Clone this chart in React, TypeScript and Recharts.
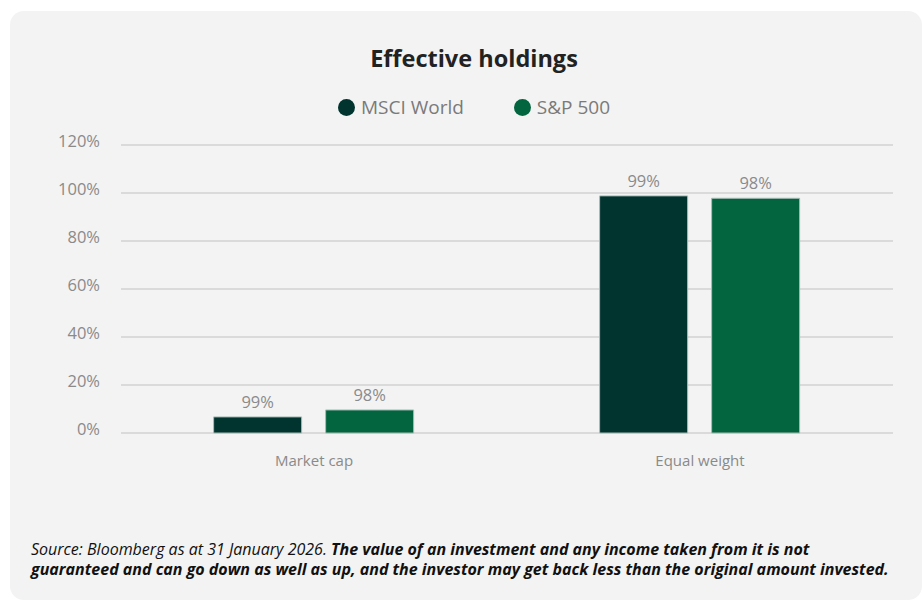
import React from 'react';
import { BarChart, Bar, XAxis, YAxis, CartesianGrid, Legend, LabelList } from 'recharts';

const categories = ['Market cap', 'Equal weight'];
const msciWorld = [6.7, 98.8];
const sp500 = [9.6, 97.8];
const msciLabels = ['99%', '99%'];
const spLabels = ['98%', '98%'];
const yTicks = [0, 20, 40, 60, 80, 100, 120];

const series = [
  { key: 'msci', label: 'msciLabel', name: 'MSCI World', color: '#01332f' },
  { key: 'sp', label: 'spLabel', name: 'S&P 500', color: '#03653f' },
];

const data = categories.map((category, i) => ({
  category,
  msci: msciWorld[i],
  sp: sp500[i],
  msciLabel: msciLabels[i],
  spLabel: spLabels[i],
}));

const FONT = '"Open Sans", Lato, sans-serif';

const LegendContent = () => (
  <div style={{ display: 'flex', justifyContent: 'center', gap: 50, fontFamily: FONT }}>
    {series.map((s) => (
      <div key={s.key} style={{ display: 'flex', alignItems: 'center', gap: 6 }}>
        <span style={{ width: 17, height: 17, borderRadius: '50%', background: s.color, display: 'inline-block' }} />
        <span style={{ fontSize: 19, color: '#7a7a7a' }}>{s.name}</span>
      </div>
    ))}
  </div>
);

export default function App() {
  return (
    <div
      style={{
        position: 'absolute',
        left: 10,
        top: 11,
        width: 912,
        height: 589,
        background: '#f3f3f3',
        borderRadius: 14,
        fontFamily: FONT,
      }}
    >
      <div
        style={{
          position: 'absolute',
          top: 31,
          left: 0,
          width: 912,
          paddingLeft: 16,
          boxSizing: 'border-box',
          textAlign: 'center',
          fontSize: 23.5,
          fontWeight: 700,
          color: '#222',
        }}
      >
        Effective holdings
      </div>

      <div style={{ position: 'absolute', left: 0, top: 69 }}>
        <BarChart
          width={912}
          height={420}
          data={data}
          margin={{ top: 65, right: 29, left: 0, bottom: 37 }}
          barCategoryGap="24%"
          barGap={24}
        >
          <CartesianGrid vertical={false} stroke="#d2d2d2" strokeWidth={1.5} />
          <XAxis
            dataKey="category"
            axisLine={false}
            tickLine={false}
            tickSize={0}
            tickMargin={22}
            tick={{ fill: '#8a8a8a', fontSize: 15, fontFamily: FONT }}
          />
          <YAxis
            width={111}
            domain={[0, 120]}
            ticks={yTicks}
            tickFormatter={(v) => `${v}%`}
            axisLine={false}
            tickLine={false}
            tickSize={0}
            tickMargin={21}
            tick={{ fill: '#8a8a8a', fontSize: 16.5, fontFamily: FONT, dy: -4 }}
          />
          <Legend
            verticalAlign="middle"
            align="center"
            content={<LegendContent />}
            wrapperStyle={{ top: 14, left: 0, width: 928 }}
          />
          {series.map((s) => (
            <Bar
              key={s.key}
              dataKey={s.key}
              name={s.name}
              fill={s.color}
              stroke="#a8bcb5"
              strokeWidth={1}
              isAnimationActive={false}
            >
              <LabelList dataKey={s.label} position="top" offset={9} fill="#8a8a8a" fontSize={16.5} fontFamily={FONT} />
            </Bar>
          ))}
        </BarChart>
      </div>

      <div
        style={{
          position: 'absolute',
          left: 21,
          top: 528,
          fontSize: 16,
          lineHeight: '20px',
          fontStyle: 'italic',
          color: '#111',
          whiteSpace: 'nowrap',
        }}
      >
        Source: Bloomberg as at 31 January 2026.{' '}
        <b>The value of an investment and any income taken from it is not</b>
        <br />
        <b>guaranteed and can go down as well as up, and the investor may get back less than the original amount invested.</b>
      </div>
    </div>
  );
}
